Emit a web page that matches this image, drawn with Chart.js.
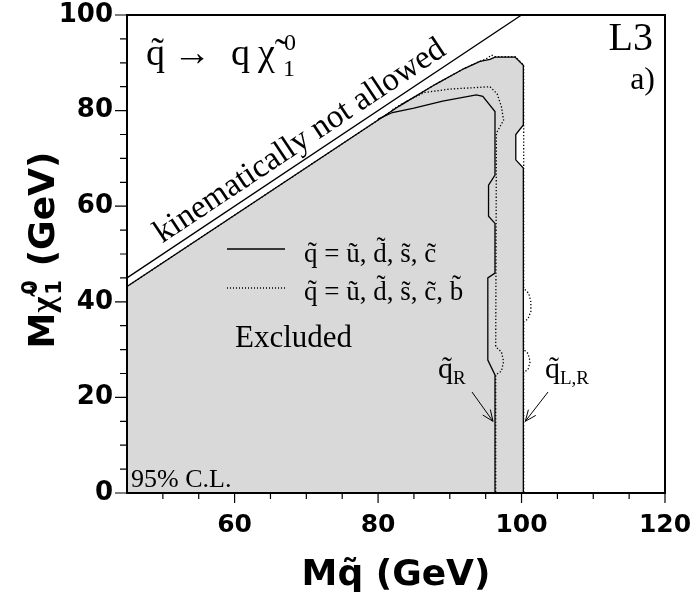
<!DOCTYPE html>
<html>
<head>
<meta charset="utf-8">
<script src="https://cdn.jsdelivr.net/npm/chart.js@4.4.0/dist/chart.umd.min.js"></script>
<style>
html, body { margin: 0; padding: 0; background: #fff; }
#wrap { width: 691px; height: 599px; }
</style>
</head>
<body>
<div id="wrap"><canvas id="c"></canvas></div>
<script>
// axis ranges and labelled ticks
const xRange = [45, 120];
const yRange = [0, 100];
const xTickLabels = [60, 80, 100, 120];
const yTickLabels = [0, 20, 40, 60, 80, 100];

// kinematic limit M_chi = M_squark
const kinX = [45, 100];
const kinY = [45, 100];

// q_L,R  u,d,s,c  (solid, edge of the grey area)
const lrSolidX = [45, 45, 83, 88, 92, 94.2, 95.6, 96.3, 99.1, 100.25, 100.25, 99.2, 99.2, 100.25, 100.25];
const lrSolidY = [0, 43.2, 81, 85.5, 88.8, 90.3, 90.7, 91.2, 91.2, 89.5, 77, 75, 69.7, 68, 0];

// q_L,R  u,d,s,c,b  (dotted)
const lrDotX = [45, 83, 88, 92, 94.2, 95.3, 95.8, 96.3, 99.1, 100.3, 100.3, 101.0, 101.3, 101.3, 100.9, 100.3, 100.3, 100.9, 101.2, 100.9, 100.3, 100.3];
const lrDotY = [43.2, 81, 85.5, 88.8, 90.3, 91.0, 91.6, 91.3, 91.3, 89.5, 42.8, 41.8, 40, 38, 36.4, 35.8, 30, 29.2, 27.5, 25.8, 25.3, 0];

// q_R  u,d,s,c  (solid)
const rSolidX = [80, 82, 85, 89, 93.7, 94.6, 96.3, 96.3, 95.4, 95.4, 96.3, 96.3, 95.3, 95.3, 96.3, 96.3];
const rSolidY = [78.2, 79.6, 80.5, 82, 83.3, 83, 79.8, 66.5, 64.4, 57.9, 56.4, 46, 45, 27.8, 24.7, 0];

// q_R  u,d,s,c,b  (dotted)
const rDotX = [82, 84, 86.5, 90, 95.6, 96.6, 97.2, 97.5, 96.5, 96.4, 97.2, 97.5, 97.2, 96.4, 96.4];
const rDotY = [80.2, 82, 83.8, 84.5, 85, 83.5, 80.8, 78, 75.3, 30.6, 29.5, 27.5, 25.5, 24.7, 0];

function pts(xs, ys) {
    return xs.map((x, i) => ({ x: x, y: ys[i] }));
}

const SERIF = "'Liberation Serif', 'DejaVu Serif', serif";
const SANS = "'DejaVu Sans', 'Liberation Sans', sans-serif";

function lineSet(data, dash, order) {
    return {
        data: data,
        showLine: true,
        borderColor: "#000",
        borderWidth: 1.3,
        borderDash: dash,
        pointRadius: 0,
        tension: 0,
        fill: false,
        order: order
    };
}

// draw text made of pieces: [text, font, dx, dy, extra advance]
function drawPieces(ctx, x, y, pieces) {
    let cx = x;
    pieces.forEach(p => {
        ctx.font = p[1];
        ctx.fillText(p[0], cx + (p[2] || 0), y + (p[3] || 0));
        cx += ctx.measureText(p[0]).width + (p[4] || 0);
    });
}

function arrow(ctx, x1, y1, x2, y2) {
    ctx.beginPath();
    ctx.moveTo(x1, y1);
    ctx.lineTo(x2, y2);
    const a = Math.atan2(y2 - y1, x2 - x1);
    const h = 12;
    ctx.moveTo(x2 - h * Math.cos(a - 0.4), y2 - h * Math.sin(a - 0.4));
    ctx.lineTo(x2, y2);
    ctx.lineTo(x2 - h * Math.cos(a + 0.4), y2 - h * Math.sin(a + 0.4));
    ctx.stroke();
}

const decor = {
    id: "decor",
    afterDatasetsDraw(chart) {
        const ctx = chart.ctx;
        const a = chart.chartArea;
        const xs = chart.scales.x;
        const ys = chart.scales.y;
        ctx.save();
        ctx.fillStyle = "#000";
        ctx.strokeStyle = "#000";

        // frame
        ctx.lineWidth = 2;
        ctx.strokeRect(a.left, a.top, a.right - a.left, a.bottom - a.top);

        // ticks
        ctx.lineWidth = 1.2;
        ctx.beginPath();
        for (let v = 50; v <= xRange[1]; v += 5) {
            const px = xs.getPixelForValue(v);
            const len = v % 20 === 0 ? 10 : 6;
            ctx.moveTo(px, a.bottom);
            ctx.lineTo(px, a.bottom + len);
        }
        for (let v = yRange[0]; v <= yRange[1]; v += 5) {
            const py = ys.getPixelForValue(v);
            const len = v % 20 === 0 ? 12 : 7;
            ctx.moveTo(a.left, py);
            ctx.lineTo(a.left - len, py);
        }
        ctx.stroke();

        // process label
        ctx.textBaseline = "alphabetic";
        ctx.textAlign = "left";
        const big = "38px " + SERIF;
        drawPieces(ctx, 146, 65, [["q\u0303", big], ["\u2192", big, 8, 0, 20], ["q", big, 8, 0, 16]]);
        ctx.font = big;
        ctx.fillText("\u03C7\u0303", 258, 65);
        ctx.font = "24px " + SERIF;
        ctx.fillText("0", 284, 50);
        ctx.fillText("1", 283, 76);

        // experiment and panel
        ctx.textAlign = "right";
        ctx.font = "40px " + SERIF;
        ctx.fillText("L3", 653, 50);
        ctx.font = "32px " + SERIF;
        ctx.fillText("a)", 655, 89);

        // kinematic label along the diagonal
        const mx = 70.5;
        const p0x = xs.getPixelForValue(mx), p0y = ys.getPixelForValue(mx);
        const ang = Math.atan2(ys.getPixelForValue(100) - ys.getPixelForValue(45),
                               xs.getPixelForValue(100) - xs.getPixelForValue(45));
        ctx.save();
        ctx.translate(p0x, p0y);
        ctx.rotate(ang);
        ctx.textAlign = "center";
        ctx.font = "33px " + SERIF;
        ctx.fillText("kinematically not allowed", 0, -9);
        ctx.restore();

        // legend
        ctx.lineWidth = 1.6;
        ctx.beginPath();
        ctx.moveTo(227, 249);
        ctx.lineTo(285, 249);
        ctx.stroke();
        ctx.lineWidth = 1.3;
        ctx.setLineDash([1, 2]);
        ctx.beginPath();
        ctx.moveTo(227, 288);
        ctx.lineTo(285, 288);
        ctx.stroke();
        ctx.setLineDash([]);
        ctx.textAlign = "left";
        ctx.font = "27px " + SERIF;
        ctx.fillText("q\u0303 = u\u0303, d\u0303, s\u0303, c\u0303", 304, 262);
        ctx.fillText("q\u0303 = u\u0303, d\u0303, s\u0303, c\u0303, b\u0303", 304, 300);

        // region labels
        ctx.font = "31px " + SERIF;
        ctx.fillText("Excluded", 235, 347);
        ctx.font = "26px " + SERIF;
        ctx.fillText("95% C.L.", 131, 487);

        // squark labels and arrows
        drawPieces(ctx, 438, 378, [["q\u0303", "30px " + SERIF], ["R", "19px " + SERIF, 0, 6]]);
        drawPieces(ctx, 545, 378, [["q\u0303", "30px " + SERIF], ["L,R", "19px " + SERIF, 0, 6]]);
        ctx.lineWidth = 1;
        arrow(ctx, 472, 392, xs.getPixelForValue(96.3) - 2, ys.getPixelForValue(15));
        arrow(ctx, 548, 392, xs.getPixelForValue(100.25) + 2, ys.getPixelForValue(15));

        // axis titles
        ctx.textAlign = "center";
        ctx.font = "bold 36px " + SANS;
        ctx.fillText("Mq\u0303 (GeV)", (a.left + a.right) / 2, 585);

        ctx.save();
        ctx.translate(41, 250);
        ctx.rotate(-Math.PI / 2);
        ctx.textAlign = "left";
        ctx.font = "bold 36px " + SANS;
        const wM = ctx.measureText("M").width;
        const wG = ctx.measureText(" (GeV)").width;
        ctx.font = "bold 34px " + SERIF;
        const wC = ctx.measureText("\u03C7\u0303").width;
        const tot = wM + wC + 18 + wG;
        let tx = -tot / 2;
        ctx.font = "bold 36px " + SANS;
        ctx.fillText("M", tx, 13);
        tx += wM;
        ctx.font = "bold 34px " + SERIF;
        ctx.fillText("\u03C7\u0303", tx, 13);
        tx += wC + 2;
        ctx.font = "bold 21px " + SANS;
        ctx.fillText("0", tx, -4);
        ctx.fillText("1", tx, 20);
        tx += 16;
        ctx.font = "bold 36px " + SANS;
        ctx.fillText(" (GeV)", tx, 13);
        ctx.restore();

        ctx.restore();
    }
};

function noEdgePadding(s) {
    s.paddingLeft = 0;
    s.paddingRight = 0;
    s.paddingTop = 0;
    s.paddingBottom = 0;
}

const chart = new Chart(document.getElementById("c"), {
    type: "scatter",
    data: {
        datasets: [
            Object.assign(lineSet(pts(lrSolidX, lrSolidY), [], 10), {
                fill: "shape", backgroundColor: "#d9d9d9"
            }),
            lineSet(pts(lrDotX, lrDotY), [1.3, 2], 5),
            lineSet(pts(rSolidX, rSolidY), [], 4),
            lineSet(pts(rDotX, rDotY), [1.3, 2], 3),
            lineSet(pts(kinX, kinY), [], 2)
        ]
    },
    options: {
        responsive: true,
        maintainAspectRatio: false,
        animation: false,
        devicePixelRatio: 1,
        layout: { padding: { left: 0, top: 15, right: 26, bottom: 0 } },
        plugins: {
            legend: { display: false },
            tooltip: { enabled: false }
        },
        scales: {
            x: {
                type: "linear",
                min: xRange[0],
                max: xRange[1],
                afterFit(s) { s.height = 106; noEdgePadding(s); },
                border: { display: false },
                grid: { drawOnChartArea: false, drawTicks: true, tickLength: 10, color: "rgba(0,0,0,0)" },
                ticks: {
                    stepSize: 5,
                    autoSkip: false,
                    maxRotation: 0,
                    padding: 7,
                    color: "#000",
                    font: { family: SANS, size: 25, weight: "bold" },
                    callback: v => xTickLabels.includes(v) ? String(v) : ""
                }
            },
            y: {
                type: "linear",
                min: yRange[0],
                max: yRange[1],
                afterFit(s) { s.width = 127; noEdgePadding(s); },
                border: { display: false },
                grid: { drawOnChartArea: false, drawTicks: true, tickLength: 12, color: "rgba(0,0,0,0)" },
                ticks: {
                    stepSize: 5,
                    autoSkip: false,
                    padding: 2,
                    color: "#000",
                    font: { family: SANS, size: 26, weight: "bold" },
                    callback: v => yTickLabels.includes(v) ? String(v) : ""
                }
            }
        }
    },
    plugins: [decor]
});
</script>
</body>
</html>
